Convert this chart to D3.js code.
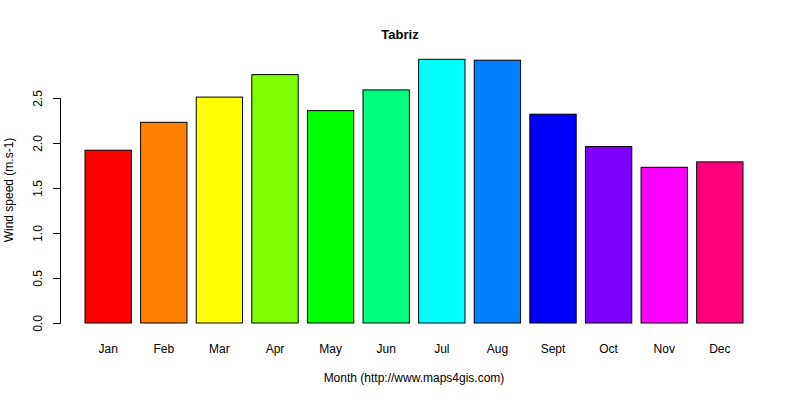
<!DOCTYPE html>
<html><head><meta charset="utf-8">
<script src="https://cdn.jsdelivr.net/npm/d3@7"></script>
<style>body{margin:0;background:#fff}text{font-family:"Liberation Sans",Arial,sans-serif}</style>
</head><body><svg id="c" width="800" height="400"></svg>
<script>
const months = ["Jan","Feb","Mar","Apr","May","Jun","Jul","Aug","Sept","Oct","Nov","Dec"];
const values = [1.92,2.23,2.51,2.76,2.36,2.59,2.93,2.92,2.32,1.96,1.73,1.79];
const colors = ["#FF0000","#FF8000","#FFFF00","#80FF00","#00FF00","#00FF80","#00FFFF","#0080FF","#0000FF","#8000FF","#FF00FF","#FF0080"];
const yTicks = [0,0.5,1,1.5,2,2.5];
const svg = d3.select("#c");
const x = d3.scaleLinear().domain([0.2,14.4]).range([85,743]);
const y = d3.scaleLinear().domain([0,2.5]).range([323,98]);
svg.selectAll("rect.b").data(values).enter().append("rect")
  .attr("x",(d,i)=>x(0.2+1.2*i)).attr("width",(d,i)=>x(1.2+1.2*i)-x(0.2+1.2*i))
  .attr("y",d=>y(d)).attr("height",d=>y(0)-y(d))
  .attr("fill",(d,i)=>colors[i]).attr("stroke","#000").attr("stroke-width",1);
const ax = svg.append("g").attr("transform","translate(60,0)").call(d3.axisLeft(y).tickValues(yTicks).tickFormat(d3.format(".1f")).tickSizeOuter(0).tickSize(7));
ax.select(".domain").attr("stroke","#000");
ax.selectAll("text").attr("transform",function(d){return `rotate(-90) translate(${-y(d)*0},0)`;}).remove();
ax.selectAll(".tick").append("text").attr("transform","translate(-18,0) rotate(-90)").attr("text-anchor","middle").attr("fill","#000").style("font-size","12px").text(d=>d3.format(".1f")(d));
svg.selectAll("text.m").data(months).enter().append("text")
  .attr("x",(d,i)=>x(0.7+1.2*i)).attr("y",353).attr("text-anchor","middle").style("font-size","12px").text(d=>d);
svg.append("text").attr("x",400).attr("y",39).attr("text-anchor","middle").style("font-size","13px").style("font-weight","bold").text("Tabriz");
svg.append("text").attr("x",414).attr("y",382).attr("text-anchor","middle").style("font-size","12px").text("Month (http://www.maps4gis.com)");
svg.append("text").attr("transform","translate(13,190) rotate(-90)").attr("text-anchor","middle").style("font-size","12px").text("Wind speed (m.s-1)");
</script></body></html>
